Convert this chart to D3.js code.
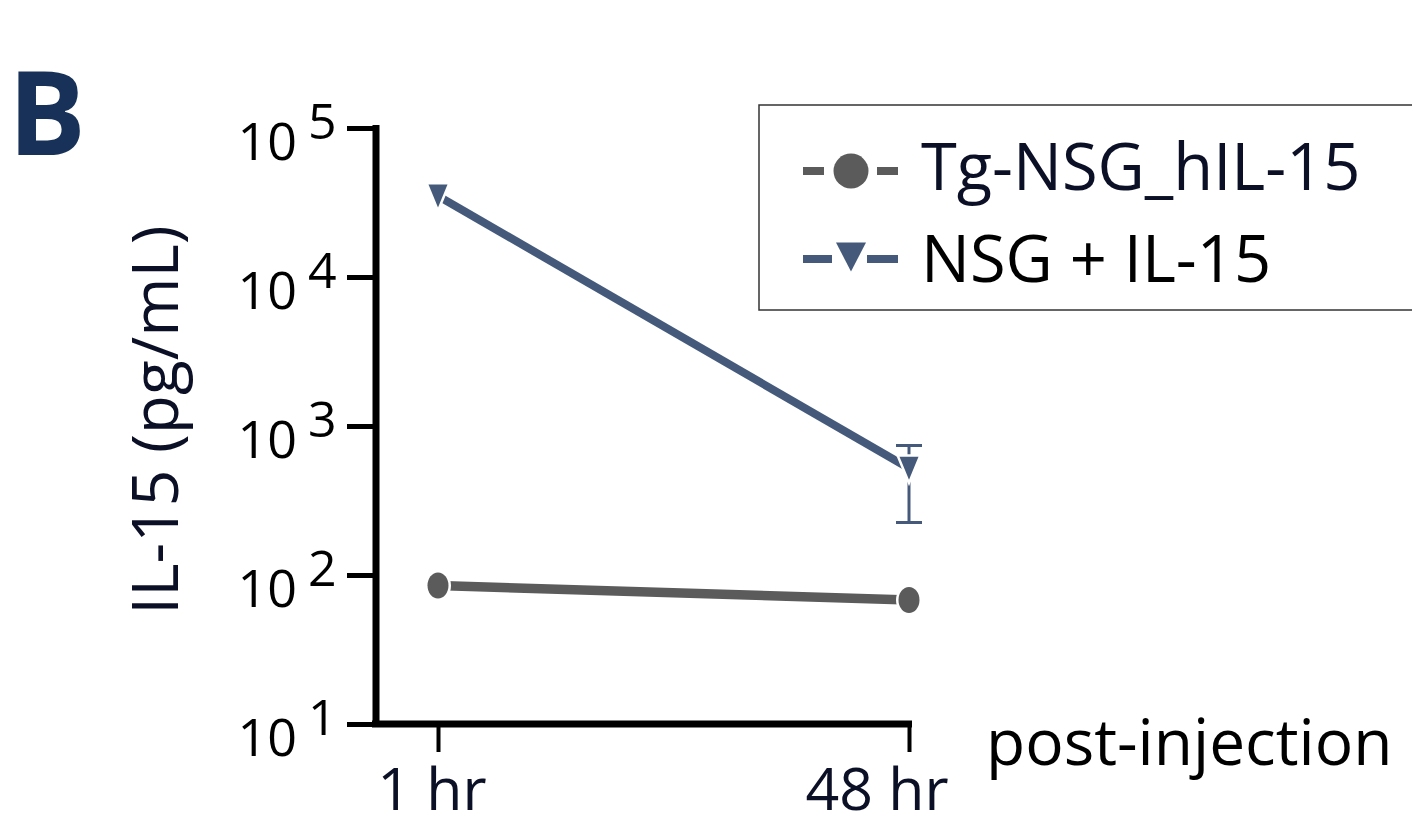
<!DOCTYPE html>
<html>
<head>
<meta charset="utf-8">
<script src="https://d3js.org/d3.v7.min.js"></script>
<style>
  body { margin: 0; background: #fff; }
  svg { display: block; font-family: "Open Sans", sans-serif; }
</style>
</head>
<body>
<script>
// data
var timepoints = ["1 hr", "48 hr"];
var tgValues = [85, 68];
var nsgValues = [35000, 520];
var nsgErrLow = [null, 225];
var nsgErrHigh = [null, 740];
var yTicks = [10, 100, 1000, 10000, 100000];
var yExponents = [1, 2, 3, 4, 5];
var legendNames = ["Tg-NSG_hIL-15", "NSG + IL-15"];

var W = 1412, H = 830;
var grey = "#5b5b5b", blue = "#455a7b", ink = "#0b1026";

var svg = d3.select("body").append("svg").attr("width", W).attr("height", H);

var y = d3.scaleLog().domain([10, 100000]).range([724, 128]);
var x = d3.scalePoint().domain(timepoints).range([438, 909]);
var axisX = 376;

// panel letter
svg.append("text").attr("x", 8).attr("y", 155)
  .attr("font-size", 116).attr("font-weight", 700).attr("fill", "#173158")
  .text("B");

// y axis
var yAxis = svg.append("g").attr("transform", "translate(" + axisX + ",0)")
  .call(d3.axisLeft(y).tickValues(yTicks).tickSize(29).tickFormat(""));
yAxis.select(".domain").remove();
yAxis.selectAll(".tick line").attr("stroke", "#000").attr("stroke-width", 5);
svg.append("line").attr("x1", axisX).attr("x2", axisX)
  .attr("y1", y(100000) - 3).attr("y2", y(10) + 3)
  .attr("stroke", "#000").attr("stroke-width", 7);

var lab = svg.append("g").selectAll("g").data(yTicks).join("g");
lab.append("text").attr("x", 297).attr("y", function(d) { return y(d) + 32; })
  .attr("text-anchor", "end").attr("font-size", 52).attr("fill", "#000").text("10");
lab.append("text").attr("x", 308).attr("y", function(d) { return y(d) + 11; })
  .attr("font-size", 50).attr("fill", "#000")
  .text(function(d, i) { return yExponents[i]; });

// x axis
var xAxis = svg.append("g").attr("transform", "translate(0," + y(10) + ")")
  .call(d3.axisBottom(x).tickSize(28).tickFormat(""));
xAxis.select(".domain").remove();
xAxis.selectAll(".tick line").attr("stroke", "#000").attr("stroke-width", 4);
svg.append("line").attr("x1", axisX - 4).attr("x2", x("48 hr") + 3)
  .attr("y1", y(10)).attr("y2", y(10))
  .attr("stroke", "#000").attr("stroke-width", 7);

var xShift = [-6, -32];
svg.append("g").selectAll("text").data(timepoints).join("text")
  .attr("x", function(d, i) { return x(d) + xShift[i]; }).attr("y", 810)
  .attr("text-anchor", "middle").attr("font-size", 59).attr("fill", ink)
  .text(function(d) { return d; });

svg.append("text").attr("x", 986).attr("y", 765)
  .attr("font-size", 64).attr("fill", "#000").text("post-injection");

svg.append("text")
  .attr("transform", "translate(178,420) rotate(-90)")
  .attr("text-anchor", "middle").attr("font-size", 64).attr("fill", ink)
  .text("IL-15 (pg/mL)");

// series lines
var line = d3.line().x(function(d, i) { return x(timepoints[i]); }).y(function(d) { return y(d); });
svg.append("path").datum(tgValues).attr("d", line)
  .attr("fill", "none").attr("stroke", grey).attr("stroke-width", 9.5);
svg.append("path").datum(nsgValues).attr("d", line)
  .attr("fill", "none").attr("stroke", blue).attr("stroke-width", 8);

// error bars
var errs = timepoints.map(function(t, i) { return {t: t, lo: nsgErrLow[i], hi: nsgErrHigh[i]}; })
  .filter(function(d) { return d.lo != null; });
var eb = svg.append("g").selectAll("g").data(errs).join("g").attr("stroke", blue).attr("stroke-width", 3);
eb.append("line").attr("x1", function(d) { return x(d.t); }).attr("x2", function(d) { return x(d.t); })
  .attr("y1", function(d) { return y(d.hi); }).attr("y2", function(d) { return y(d.lo); });
eb.append("line").attr("x1", function(d) { return x(d.t) - 13; }).attr("x2", function(d) { return x(d.t) + 13; })
  .attr("y1", function(d) { return y(d.hi); }).attr("y2", function(d) { return y(d.hi); });
eb.append("line").attr("x1", function(d) { return x(d.t) - 13; }).attr("x2", function(d) { return x(d.t) + 13; })
  .attr("y1", function(d) { return y(d.lo); }).attr("y2", function(d) { return y(d.lo); });

// markers (white halo drawn behind the fill)
function tri(w, h) { return "M" + (-w / 2) + "," + (-h / 2) + "L" + (w / 2) + "," + (-h / 2) + "L0," + (h / 2) + "Z"; }

svg.append("g").selectAll("ellipse").data(tgValues).join("ellipse")
  .attr("cx", function(d, i) { return x(timepoints[i]); }).attr("cy", function(d) { return y(d); })
  .attr("rx", 10.5).attr("ry", 13).attr("fill", grey)
  .attr("stroke", "#fff").attr("stroke-width", 5).attr("paint-order", "stroke");

svg.append("g").selectAll("path").data(nsgValues).join("path")
  .attr("transform", function(d, i) { return "translate(" + x(timepoints[i]) + "," + y(d) + ")"; })
  .attr("d", tri(19, 23)).attr("fill", blue)
  .attr("stroke", "#fff").attr("stroke-width", 5).attr("stroke-linejoin", "miter").attr("paint-order", "stroke");

// legend
var lg = svg.append("g");
lg.append("rect").attr("x", 759).attr("y", 105).attr("width", 670).attr("height", 205)
  .attr("fill", "#fff").attr("stroke", "#333").attr("stroke-width", 1.5);
var rowsY = [171, 257];
var colors = [grey, blue];
legendNames.forEach(function(name, i) {
  var g = lg.append("g").attr("transform", "translate(0," + rowsY[i] + ")");
  if (i === 0) {
    g.append("line").attr("x1", 803).attr("x2", 824).attr("stroke", colors[i]).attr("stroke-width", 8);
    g.append("line").attr("x1", 877).attr("x2", 898).attr("stroke", colors[i]).attr("stroke-width", 8);
    g.append("ellipse").attr("cx", 851).attr("cy", 0).attr("rx", 17.5).attr("ry", 17.5).attr("fill", grey);
  } else {
    g.append("line").attr("x1", 803).attr("x2", 832).attr("y1", 2).attr("y2", 2).attr("stroke", colors[i]).attr("stroke-width", 8);
    g.append("line").attr("x1", 867).attr("x2", 898).attr("y1", 2).attr("y2", 2).attr("stroke", colors[i]).attr("stroke-width", 8);
    g.append("path").attr("transform", "translate(851,0)").attr("d", tri(30, 29)).attr("fill", blue)
      .attr("stroke", "#fff").attr("stroke-width", 4).attr("paint-order", "stroke");
  }
  g.append("text").attr("x", 921).attr("y", i === 0 ? 19 : 25)
    .attr("font-size", 65).attr("fill", i === 0 ? ink : "#000").text(name);
});
</script>
</body>
</html>
